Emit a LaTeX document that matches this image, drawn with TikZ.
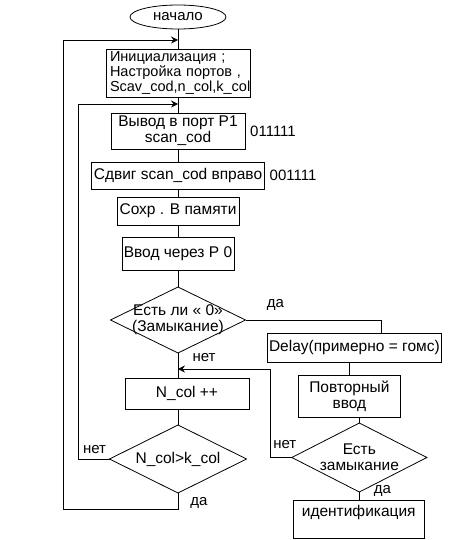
\documentclass[tikz,border=0pt]{standalone}
\usepackage{fontspec}
\setmainfont{Liberation Sans}
\usetikzlibrary{positioning}
\usetikzlibrary{shapes.geometric}
\usetikzlibrary{arrows.meta}
\tikzstyle{proc} = [rectangle,draw=black,line width=0.8pt,inner sep=1.5pt,outer sep=0pt,align=center,font=\fontsize{15.5}{16}\selectfont]
\tikzstyle{cond} = [diamond,draw=black,line width=0.8pt,inner sep=0pt,outer sep=0pt,label distance=0pt]
\tikzstyle{term} = [ellipse,draw=black,line width=0.8pt,inner sep=0pt,outer sep=0pt,minimum width=96pt,minimum height=24pt,font=\fontsize{15}{16}\selectfont]
\tikzstyle{note} = [inner sep=0pt,font=\fontsize{15}{16}\selectfont]
\tikzstyle{flow} = [line width=0.8pt]
\tikzstyle{back} = [line width=0.8pt,-{Stealth[length=7pt,width=7pt,inset=2.5pt]}]

\begin{document}
\begin{tikzpicture}[every label/.style={align=center,font=\fontsize{15.5}{16}\selectfont,inner sep=0pt}]
\useasboundingbox (0,0) rectangle (474pt,-540pt);

% Define nodes
\node[term] at (178pt,-17pt)                                                   (start) {начало};
\node[proc, below = 20pt of start, minimum width=144pt, minimum height=48pt,
      text width=136pt, inner xsep=4pt, align=left,
      font=\fontsize{14.5}{13}\selectfont]                                     (init) {Инициализация ;\\Настройка портов ,\\Scav\_cod,n\_col,k\_col};
\node[proc, below = 16pt of init, minimum width=134pt, minimum height=36pt]    (out)   {Вывод в порт P1\\scan\_cod};
\node[proc, below = 13pt of out, minimum width=173pt, minimum height=27pt]     (shift) {Сдвиг scan\_cod вправо};
\node[proc, below = 8pt of shift, minimum width=122pt, minimum height=28pt]    (save)  {Сохр . В памяти};
\node[proc, below = 12pt of save, minimum width=112pt, minimum height=33pt]    (input) {Ввод через P 0};
\node[cond, below = 17pt of input, minimum width=135pt, minimum height=66pt,
      label={center:{Есть ли « 0»\\(Замыкание)}}]                               (zero)  {};
\node[proc, below = 25pt of zero, xshift=9pt,
      minimum width=124pt, minimum height=31pt]                                (ncol)  {N\_col ++};
\node[cond, below = 16pt of ncol, xshift=-9pt, minimum width=137pt, minimum height=68pt,
      label={center:{N\_col>k\_col}}]                                           (last)  {};

\node[proc, below right = 13pt and 22pt of zero.east,
      minimum width=172pt, minimum height=29pt]                                (delay) {Delay(примерно = гомс)};
\node[proc, below = 13pt of delay, xshift=-5pt,
      minimum width=102pt, minimum height=42pt]                                (again) {Повторный\\ввод};
\node[cond, below = 6pt of again, xshift=10pt, minimum width=135pt, minimum height=69pt,
      label={center:{Есть\\замыкание}}]                                         (close) {};
\node[proc, below = 8pt of close, minimum width=131pt, minimum height=38pt,
      text width=115pt, inner xsep=8pt, align=left]                            (ident) {идентификация\\\mbox{}};

% codes
\node[note, right = 5pt of out]                                                (c1) {011111};
\node[note, right = 5pt of shift]                                              (c2) {001111};

% answers
\node[note] at ([shift={(30pt,15pt)}]zero.east)      (yes1) {да};
\node[note] at ([shift={(26pt,-5pt)}]zero.south)     (no1)  {нет};
\node[note] at ([shift={(-15pt,9pt)}]last.west)      (no2)  {нет};
\node[note] at ([shift={(21pt,-10pt)}]last.south)    (yes2) {да};
\node[note] at ([shift={(-7pt,13pt)}]close.west)     (no3)  {нет};
\node[note] at ([shift={(23pt,1pt)}]close.south)     (yes3) {да};

\coordinate (in1) at ([yshift=9pt]init.north);
\coordinate (in2) at ([yshift=9pt]out.north);
\coordinate (in3) at ([yshift=9pt]zero.south |- ncol.north);

% Edges
\draw[flow] (start) -- (init);
\draw[flow] (init) -- (out);
\draw[flow] (out) -- (shift);
\draw[flow] (shift) -- (save);
\draw[flow] (save) -- (input);
\draw[flow] (input) -- (zero);
\draw[flow] (zero.south) -- (zero.south |- ncol.north);
\draw[flow] (last.north |- ncol.south) -- (last.north);
\draw[flow] (zero.east) -| ([xshift=27pt]delay.north);
\draw[flow] (again.north |- delay.south) -- (again.north);
\draw[flow] (close.north |- again.south) -- (close.north);
\draw[flow] (close) -- (ident);

\draw[back] (last.south) -- ++(0,-16pt) -- ++(-115pt,0) |- (in1);
\draw[back] (last.west) -- ++(-31pt,0) |- (in2);
\draw[back] (close.west) -- ++(-21pt,0) |- (in3);
\end{tikzpicture}
\end{document}
